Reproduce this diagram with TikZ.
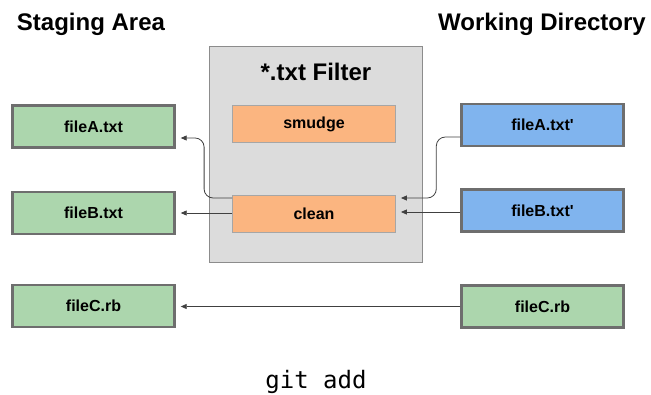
\documentclass[tikz,border=0pt]{standalone}
\usepackage{fontspec}
\setmainfont{Liberation Sans}
\newfontfamily\monofont{DejaVu Sans Mono}
\usetikzlibrary{
    arrows.meta,
    calc,
    positioning
}
\definecolor{stagegreen}{HTML}{ACD6AD}
\definecolor{workblue}{HTML}{80B4EE}
\definecolor{filterorange}{HTML}{FBB580}
\definecolor{filtergray}{HTML}{DCDCDC}
\definecolor{edgegray}{HTML}{6E6E6E}
\tikzset{
    filebox/.style={draw=edgegray, line width=2.4pt, minimum width=162pt,
        minimum height=42pt, inner sep=0pt, font=\bfseries\fontsize{16}{18}\selectfont},
    stagefile/.style={filebox, fill=stagegreen},
    workfile/.style={filebox, fill=workblue},
    filterbox/.style={draw=black!45, line width=1.4pt, fill=filtergray,
        minimum width=213pt, minimum height=216pt, inner sep=0pt},
    filterstep/.style={draw=black!35, line width=0.8pt, fill=filterorange,
        minimum width=163pt, minimum height=37pt, inner sep=0pt,
        font=\bfseries\fontsize{16}{18}\selectfont},
    heading/.style={font=\bfseries\fontsize{24}{28}\selectfont},
    flow/.style={-{Triangle[length=6pt, width=5pt]}, line width=0.8pt, black!75,
        shorten >=5pt},
    bentflow/.style={flow, rounded corners=9pt}
}

\begin{document}
\begin{tikzpicture}[x=1pt, y=-1pt]
    \useasboundingbox (0,0) rectangle (651,394);
    % headings
    \node[heading] (stagetitle) at (91,24) {Staging Area};
    \node[heading] (worktitle) at (542,24) {Working Directory};
    % the filter
    \node[filterbox] (filter) at (316,154.5) {};
    \node[heading] (filtertitle) at (316,72) {*.txt Filter};
    \node[filterstep] (smudge) at (314,124) {smudge};
    \node[filterstep] (clean) at (314,214) {clean};
    % staging area files
    \node[stagefile] (stageA) at (93.5,126.5) {fileA.txt};
    \node[stagefile] (stageB) at (93.5,213) {fileB.txt};
    \node[stagefile] (stageC) at (93.5,306) {fileC.rb};
    % working directory files
    \node[workfile] (workA) at (542.5,125) {fileA.txt\textquotesingle};
    \node[workfile] (workB) at (542.5,210.5) {fileB.txt\textquotesingle};
    \node[stagefile] (workC) at (542.5,306.5) {fileC.rb};
    % into the clean filter
    \draw[bentflow] ([yshift=-12pt]workA.west) -- ++(-24,0) |- ([yshift=16pt]clean.east);
    \draw[flow] ([yshift=-1.5pt]workB.west) -- ([yshift=2pt]clean.east);
    % out of the clean filter
    \draw[bentflow] ([yshift=16pt]clean.west) -- ++(-28,0) |- ([yshift=-11.5pt]stageA.east);
    \draw[flow] ([yshift=1pt]clean.west) -- ([yshift=0pt]stageB.east);
    \draw[flow] (workC.west) -- (workC.west -| stageC.east);
    % command
    \node[font=\monofont\fontsize{24}{28}\selectfont] (command) at (316,382) {git add};
\end{tikzpicture}
\end{document}
